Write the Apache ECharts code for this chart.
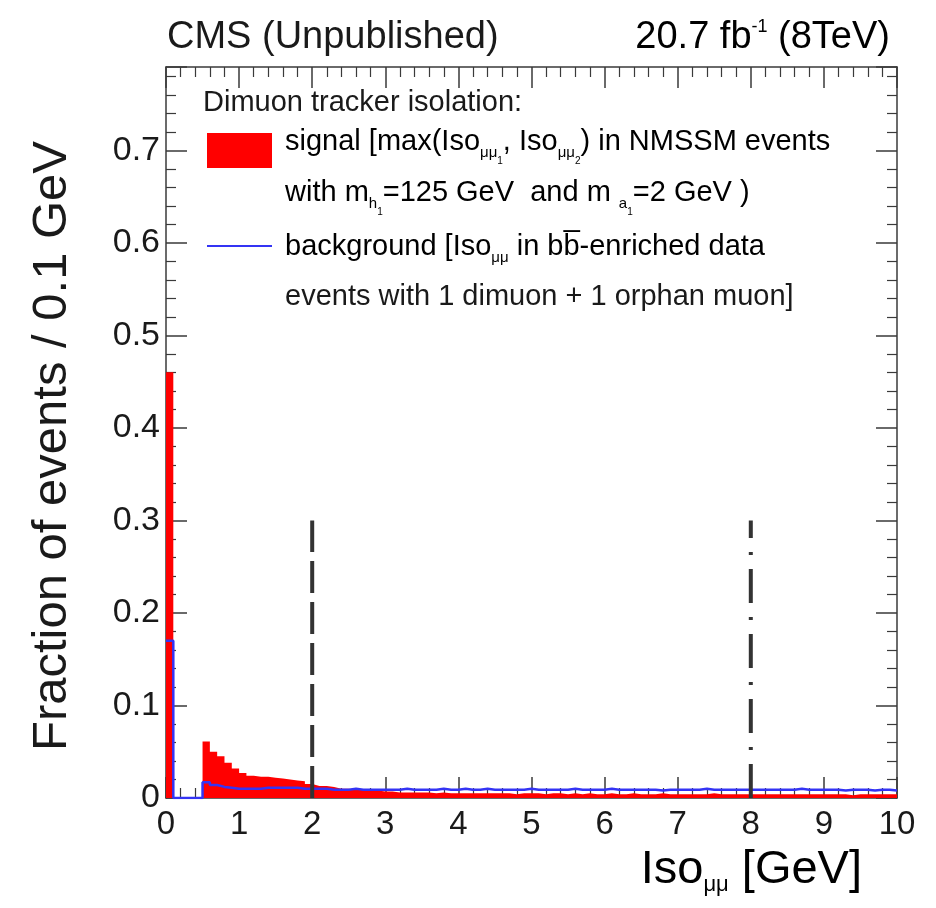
<!DOCTYPE html>
<html><head><meta charset="utf-8">
<script src="https://cdn.jsdelivr.net/npm/echarts@6/dist/echarts.min.js"></script>
<style>html,body{margin:0;padding:0;background:#fff}#c{width:936px;height:908px}</style>
</head><body><div id="c"></div>
<script>
// ---------- data ----------
const binWidth = 0.1;
const xMin = 0, xMax = 10;
const yMin = 0, yMax = 0.79;
const xTickStep = 1;
const yTickStep = 0.1;
const yLabelMax = 0.7;

// signal: max(Iso_mumu1, Iso_mumu2) NMSSM, fraction per 0.1 GeV bin (100 bins, 0..10 GeV)
const signal = [
  0.460, 0, 0, 0, 0, 0.061, 0.050, 0.045, 0.038, 0.032,
  0.027, 0.024, 0.023, 0.023, 0.022, 0.021, 0.020, 0.019, 0.018, 0.015,
  0.013, 0.013, 0.012, 0.010, 0.010, 0.009, 0.009, 0.008, 0.008, 0.007,
  0.007, 0.006, 0.006, 0.006, 0.006, 0.006, 0.005, 0.006, 0.005, 0.005,
  0.005, 0.005, 0.005, 0.005, 0.005, 0.005, 0.005, 0.004, 0.005, 0.005,
  0.005, 0.004, 0.005, 0.005, 0.004, 0.005, 0.004, 0.005, 0.004, 0.004,
  0.005, 0.004, 0.004, 0.005, 0.004, 0.004, 0.004, 0.005, 0.004, 0.004,
  0.004, 0.004, 0.004, 0.004, 0.005, 0.004, 0.004, 0.004, 0.004, 0.004,
  0.004, 0.004, 0.004, 0.004, 0.004, 0.004, 0.004, 0.004, 0.004, 0.004,
  0.004, 0.004, 0.004, 0.003, 0.004, 0.004, 0.004, 0.004, 0.004, 0.004
];
// background: Iso_mumu in bb-enriched data
const background = [
  0.170, 0, 0, 0, 0, 0.017, 0.014, 0.012, 0.011, 0.010,
  0.010, 0.010, 0.010, 0.011, 0.011, 0.011, 0.011, 0.011, 0.010, 0.010,
  0.010, 0.010, 0.009, 0.009, 0.009, 0.010, 0.009, 0.009, 0.009, 0.009,
  0.009, 0.009, 0.010, 0.009, 0.009, 0.009, 0.009, 0.010, 0.009, 0.009,
  0.010, 0.009, 0.009, 0.010, 0.009, 0.009, 0.009, 0.009, 0.009, 0.010,
  0.009, 0.009, 0.009, 0.009, 0.009, 0.010, 0.009, 0.009, 0.009, 0.009,
  0.010, 0.009, 0.009, 0.009, 0.009, 0.009, 0.009, 0.008, 0.009, 0.009,
  0.009, 0.009, 0.009, 0.010, 0.009, 0.009, 0.009, 0.009, 0.009, 0.009,
  0.009, 0.009, 0.009, 0.009, 0.009, 0.009, 0.010, 0.009, 0.009, 0.009,
  0.009, 0.009, 0.008, 0.009, 0.009, 0.009, 0.008, 0.009, 0.009, 0.008
];
// cut lines
const cutLoose = 2;   // dashed
const cutTight = 8;   // dash-dotted
const cutHeight = 0.3;

// ---------- helpers ----------
function histPoints(vals) {
  const pts = vals.map((v, i) => [+(xMin + i * binWidth).toFixed(4), v]);
  pts.push([xMax, vals[vals.length - 1]]);
  return pts;
}

const F = "'Liberation Sans', Arial, Helvetica, sans-serif";
const TXT = '#1a1a1a';
const AX = '#3a3a3a';

const R = {
  r:  { fontSize: 29, fontFamily: F, color: TXT },
  s:  { fontSize: 15, fontFamily: F, color: TXT, padding: [22, 0, 0, 0] },
  ss: { fontSize: 10, fontFamily: F, color: TXT, padding: [38, 0, 0, 0] }
};

const axisCommon = {
  type: 'value',
  axisLine: { show: true, onZero: false, lineStyle: { color: AX, width: 1.5 } },
  axisTick: { show: true, inside: true, length: 21, lineStyle: { color: AX, width: 1.5 } },
  minorTick: { show: true, splitNumber: 5, length: 10, lineStyle: { color: AX, width: 1.2 } },
  splitLine: { show: false }
};

const chart = echarts.init(document.getElementById('c'), null, { renderer: 'canvas' });

const option = {
  animation: false,
  backgroundColor: '#fff',
  grid: { left: 166, right: 39, top: 67, bottom: 110, containLabel: false },
  xAxis: [
    Object.assign({}, axisCommon, {
      min: xMin, max: xMax, interval: xTickStep, position: 'bottom',
      axisLabel: { fontSize: 33, fontFamily: F, color: TXT, margin: 10 }
    }),
    Object.assign({}, axisCommon, {
      min: xMin, max: xMax, interval: xTickStep, position: 'top',
      axisLabel: { show: false }
    })
  ],
  yAxis: [
    Object.assign({}, axisCommon, {
      min: yMin, max: yMax, interval: yTickStep, position: 'left',
      axisLabel: {
        fontSize: 34, fontFamily: F, color: TXT, margin: 6, showMaxLabel: false,
        formatter: function (v) {
          const k = Math.round(v / yTickStep);
          if (Math.abs(v / yTickStep - k) > 1e-6 || v > yLabelMax + 1e-9) return '';
          return k === 0 ? '0' : (k * yTickStep).toFixed(1);
        }
      }
    }),
    Object.assign({}, axisCommon, {
      min: yMin, max: yMax, interval: yTickStep, position: 'right',
      axisLabel: { show: false }
    })
  ],
  series: [
    {
      name: 'signal', type: 'line', step: 'end', xAxisIndex: 0, yAxisIndex: 0,
      data: histPoints(signal), symbol: 'none',
      lineStyle: { width: 0, color: '#ff0000' },
      areaStyle: { color: '#ff0000', opacity: 1 },
      z: 2
    },
    {
      name: 'background', type: 'line', step: 'end', xAxisIndex: 0, yAxisIndex: 0,
      data: histPoints(background), symbol: 'none',
      lineStyle: { width: 2.5, color: '#3434f4' },
      z: 3
    },
    {
      name: 'cut2', type: 'line', data: [[cutLoose, 0], [cutLoose, cutHeight]], symbol: 'none',
      lineStyle: { width: 4, color: '#333', type: [32, 9] }, z: 4
    },
    {
      name: 'cut8', type: 'line', data: [[cutTight, 0], [cutTight, cutHeight]], symbol: 'none',
      lineStyle: { width: 4, color: '#333', type: [34, 14, 3, 14] }, z: 4
    }
  ],
  graphic: [
    { type: 'text', x: 167, y: 38, style: { text: 'CMS (Unpublished)', fontSize: 38, fontFamily: F, fill: TXT, align: 'left', verticalAlign: 'middle' } },
    { type: 'text', x: 890, y: 38, style: {
        text: '{a|20.7 fb}{p|-1}{a| (8TeV)}', align: 'right', verticalAlign: 'middle',
        rich: {
          a: { fontSize: 38, fontFamily: F, color: TXT },
          p: { fontSize: 18, fontFamily: F, color: TXT, padding: [0, 0, 22, 0] }
        } } },
    // legend
    { type: 'text', x: 203, y: 103, style: { text: 'Dimuon tracker isolation:', fontSize: 29, fontFamily: F, fill: TXT, align: 'left', verticalAlign: 'middle' } },
    { type: 'rect', shape: { x: 207, y: 133, width: 65, height: 35 }, style: { fill: '#ff0000' } },
    { type: 'text', x: 285, y: 142, style: { text: '{r|signal [max(Iso}{s|μμ}{ss|1}{r|, Iso}{s|μμ}{ss|2}{r|) in NMSSM events}', rich: R, align: 'left', verticalAlign: 'middle' } },
    { type: 'text', x: 285, y: 193, style: { text: '{r|with m}{s|h}{ss|1}{r|=125 GeV  and m }{s|a}{ss|1}{r|=2 GeV )}', rich: R, align: 'left', verticalAlign: 'middle' } },
    { type: 'line', shape: { x1: 207, y1: 246, x2: 272, y2: 246 }, style: { stroke: '#3434f4', lineWidth: 2 } },
    { type: 'text', x: 285, y: 247, style: { text: '{r|background [Iso}{s|μμ}{r| in b}{r|b\u0305}{r|-enriched data}', rich: R, align: 'left', verticalAlign: 'middle' } },
    { type: 'text', x: 285, y: 297, style: { text: 'events with 1 dimuon + 1 orphan muon]', fontSize: 29, fontFamily: F, fill: TXT, align: 'left', verticalAlign: 'middle' } },
    // axis titles
    { type: 'text', x: 52, y: 446, rotation: Math.PI / 2, style: { text: 'Fraction of events / 0.1 GeV', fontSize: 49, fontFamily: F, fill: TXT, align: 'center', verticalAlign: 'middle' } },
    { type: 'text', x: 862, y: 870, style: {
        text: '{a|Iso}{s|μμ}{a| [GeV]}', align: 'right', verticalAlign: 'middle',
        rich: {
          a: { fontSize: 47, fontFamily: F, color: TXT },
          s: { fontSize: 22, fontFamily: F, color: TXT, padding: [30, 0, 0, 0] }
        } } }
  ]
};
chart.setOption(option);
</script>
</body></html>
